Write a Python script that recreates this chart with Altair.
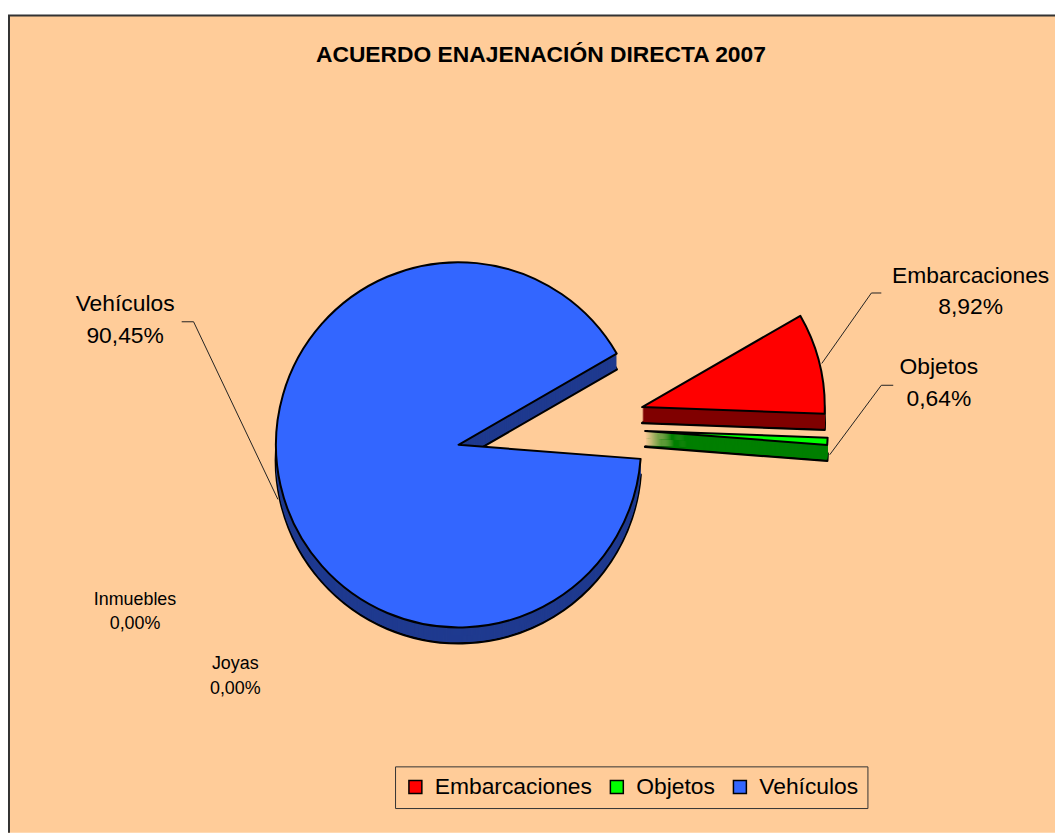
import math
import altair as alt
import pandas as pd

# ---------------- data ----------------
TITLE = "ACUERDO ENAJENACIÓN DIRECTA 2007"
CATEGORIES = ["Embarcaciones", "Objetos", "Vehículos", "Inmuebles", "Joyas"]
PCT = [8.92, 0.64, 90.45, 0.00, 0.00]
LEGEND_CATS = ["Embarcaciones", "Objetos", "Vehículos"]

# ---------------- styles / layout ----------------
W, H = 1055, 828
BG = "#FFCC99"
FONT = "Liberation Sans"
TOP_COLORS = ["#FF0000", "#00FF00", "#3366FF"]
SIDE_COLORS = {"Embarcaciones": "#800000", "Objetos": "#007F00", "Vehículos": "#1F3A8F"}
CX, CY, R, DEPTH = 454, 437, 184, 16
EXPLODE = {"Vehículos": (0, 0), "Embarcaciones": (185, -38), "Objetos": (188, -14)}
A0 = math.radians(60)
TOTAL = sum(PCT)

# label positions (x center, first baseline, font size, line height)
LABEL_POS = {
    "Vehículos": (118, 302, 23, 32),
    "Embarcaciones": (970, 274, 23, 31),
    "Objetos": (938, 366, 23, 32),
    "Inmuebles": (128, 598, 18, 25),
    "Joyas": (229, 663, 18, 25),
}
# leader lines (x, y, x2, y2)
LEADERS = [
    (175, 313, 187, 313), (187, 313, 272, 492),
    (880, 284, 870, 284), (870, 284, 820, 355),
    (892, 377, 880, 377), (880, 377, 828, 447),
]

df = pd.DataFrame({"cat": CATEGORIES, "pct": PCT})

base = (
    alt.Chart(df)
    .transform_window(cum="sum(pct)", frame=[None, 0])
    .transform_calculate(start="datum.cum - datum.pct")
)

theta_scale = alt.Scale(domain=[0, TOTAL], range=[A0, A0 + 2 * math.pi])
color_scale = alt.Scale(domain=LEGEND_CATS, range=TOP_COLORS)

legend = alt.Legend(
    orient="none", legendX=390, legendY=761, direction="horizontal", title=None,
    symbolType="square", symbolSize=170, symbolStrokeColor="black",
    symbolStrokeWidth=1.5, symbolOpacity=1,
    labelFontSize=23, labelFont=FONT, labelColor="black", labelLimit=400,
    labelOffset=8, columnPadding=13, padding=9,
    strokeColor="#333333", fillColor=BG,
)

layers = []

# chart area (peach) with top/left border
one = pd.DataFrame({"k": [0]})
layers.append(alt.Chart(one).mark_rect(color=BG).encode(
    x=alt.value(0), x2=alt.value(W), y=alt.value(4), y2=alt.value(H)))
layers.append(alt.Chart(one).mark_rule(color="#333333", strokeWidth=2).encode(
    x=alt.value(0), x2=alt.value(W), y=alt.value(4.5)))
layers.append(alt.Chart(one).mark_rule(color="#333333", strokeWidth=2).encode(
    x=alt.value(1), y=alt.value(4), y2=alt.value(H)))

# title
layers.append(alt.Chart(pd.DataFrame({"t": [TITLE]})).mark_text(
    x=537, y=51, align="center", baseline="alphabetic", font=FONT,
    fontSize=23, fontWeight="bold", color="black").encode(text="t:N"))

# pie slices (back to front), extruded downwards
for cat in ["Vehículos", "Objetos", "Embarcaciones"]:
    dx, dy = EXPLODE[cat]
    filt = alt.datum.cat == cat
    enc = dict(theta=alt.Theta("start:Q", scale=theta_scale), theta2="cum:Q")
    layers.append(base.transform_filter(filt).mark_arc(
        x=CX + dx, y=CY + dy + DEPTH, radius=R, color=SIDE_COLORS[cat],
        stroke="black", strokeWidth=2.5, strokeJoin="round").encode(**enc))
    for off in range(DEPTH - 1, 0, -1):
        layers.append(base.transform_filter(filt).mark_arc(
            x=CX + dx, y=CY + dy + off, radius=R,
            color=SIDE_COLORS[cat]).encode(**enc))
    layers.append(base.transform_filter(filt).mark_arc(
        x=CX + dx, y=CY + dy, radius=R, stroke="black", strokeWidth=2,
        strokeJoin="round", opacity=1).encode(
        color=alt.Color("cat:N", scale=color_scale, legend=legend), **enc))

# leader lines
for (x1, y1, x2, y2) in LEADERS:
    layers.append(alt.Chart(one).mark_rule(color="#222222", strokeWidth=1).encode(
        x=alt.value(x1), y=alt.value(y1), x2=alt.value(x2), y2=alt.value(y2)))

# data labels
for cat, (lx, ly, fs, lh) in LABEL_POS.items():
    layers.append(
        base.transform_filter(alt.datum.cat == cat)
        .transform_calculate(
            label="datum.cat + '\\n' + replace(format(datum.pct, '.2f'), '.', ',') + '%'")
        .mark_text(x=lx, y=ly, align="center", baseline="alphabetic", font=FONT,
                   fontSize=fs, lineHeight=lh, lineBreak="\n", color="black")
        .encode(text="label:N")
    )

chart = (
    alt.layer(*layers)
    .properties(width=W, height=H, background="white", padding=0,
                autosize=alt.AutoSizeParams(type="none"))
    .configure_view(stroke=None)
)

chart.save("out.html", embed_options={"renderer": "svg", "actions": False})
